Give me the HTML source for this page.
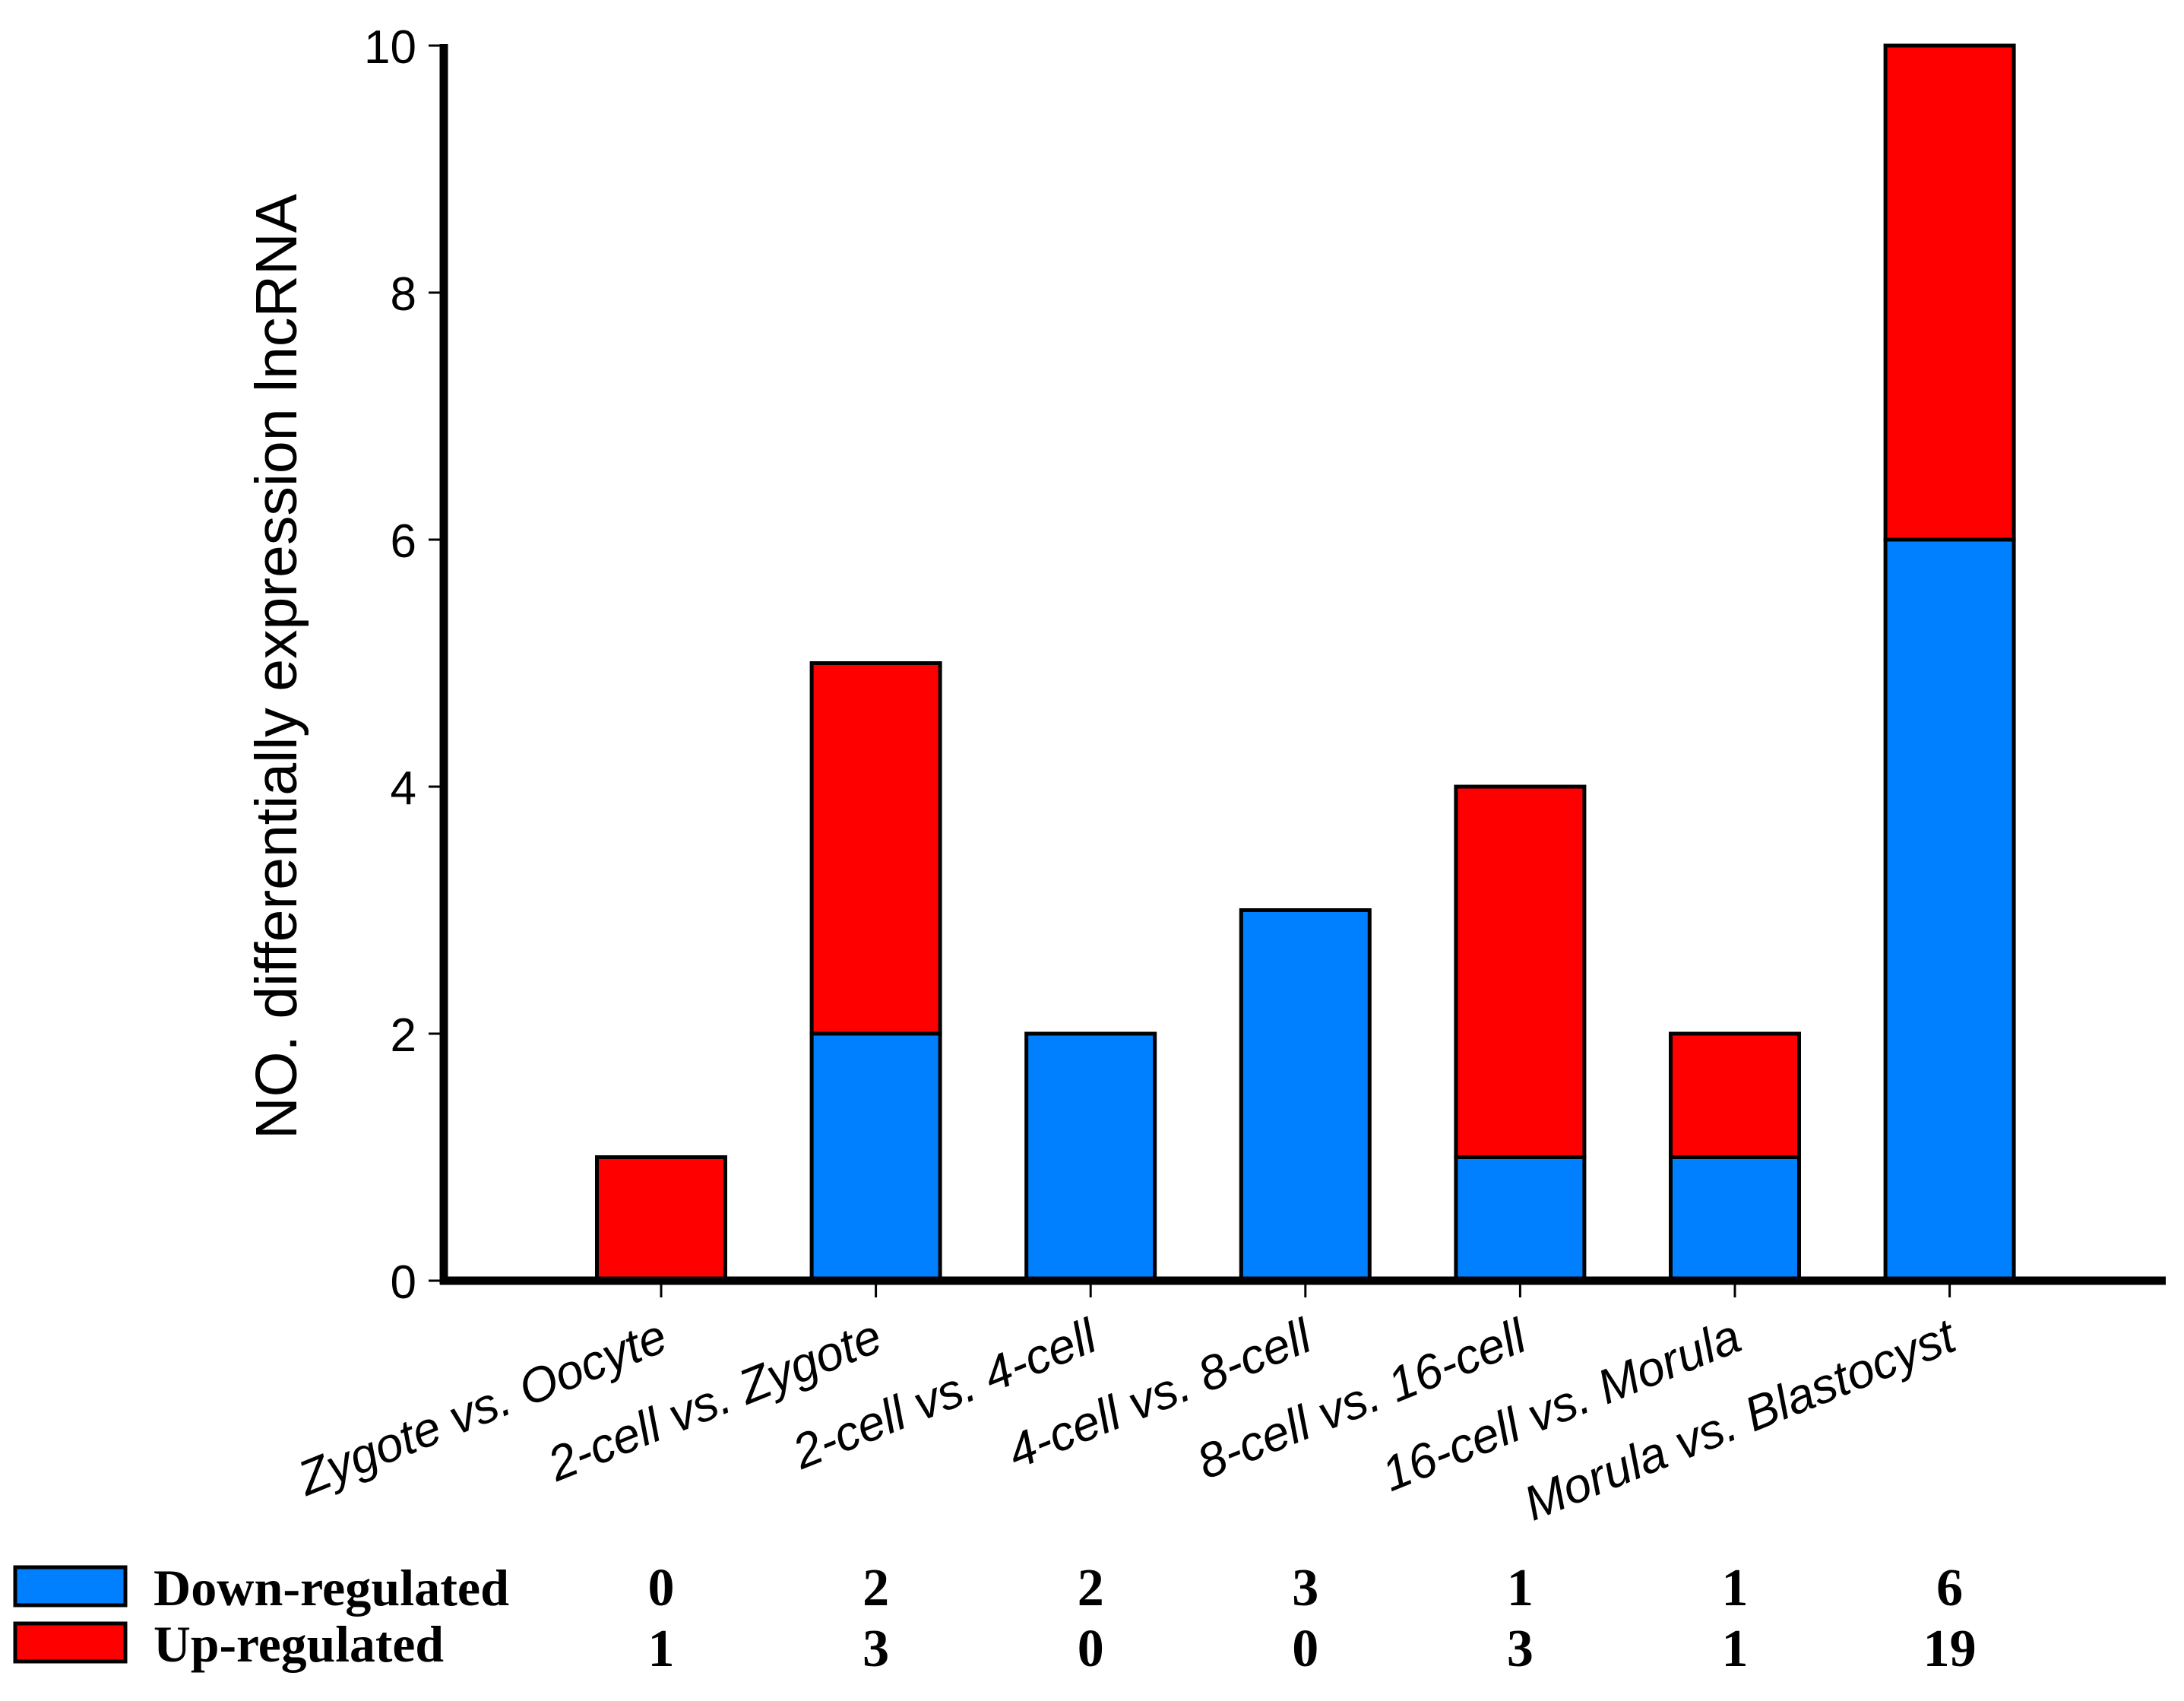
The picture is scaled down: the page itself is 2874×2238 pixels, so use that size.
<!DOCTYPE html>
<html><head><meta charset="utf-8">
<style>
html,body{margin:0;padding:0;background:#fff;}
svg{display:block;}
</style></head>
<body>
<svg id="chart" width="2874" height="2238" viewBox="0 0 2874 2238" xmlns="http://www.w3.org/2000/svg">
<g id="bars"></g>
<g id="axes"></g>
<g id="xlabels"></g>
<g id="table"></g>
<text transform="translate(390,877) rotate(-90)" text-anchor="middle" font-family="Liberation Sans, sans-serif" font-size="77" fill="#000">NO. differentially expression lncRNA</text>
<g>
  <rect x="20" y="2062" width="145" height="50" fill="#0080ff" stroke="#000" stroke-width="5"/>
  <text x="202" y="2112" font-family="Liberation Serif, serif" font-weight="bold" font-size="68" fill="#000" textLength="468" lengthAdjust="spacingAndGlyphs">Down-regulated</text>
  <rect x="20" y="2136" width="145" height="50" fill="#ff0000" stroke="#000" stroke-width="5"/>
  <text x="202" y="2186" font-family="Liberation Serif, serif" font-weight="bold" font-size="68" fill="#000" textLength="382" lengthAdjust="spacingAndGlyphs">Up-regulated</text>
</g>
</svg>
<script>
const categories = ["Zygote vs. Oocyte","2-cell vs. Zygote","2-cell vs. 4-cell","4-cell vs. 8-cell","8-cell vs. 16-cell","16-cell vs. Morula","Morula vs. Blastocyst"];
const downValues = [0,2,2,3,1,1,6];
const upValues = [1,3,0,0,3,1,4];
const tableDown = ["0","2","2","3","1","1","6"];
const tableUp = ["1","3","0","0","3","1","19"];
const yTicks = [0,2,4,6,8,10];

const NS = "http://www.w3.org/2000/svg";
const X0 = 584, Y0 = 1685, YTOP = 60, YMAX = 10;
const firstCenter = 870, step = 282.6, barW = 169;
function yScale(v){ return Y0 - (v / YMAX) * (Y0 - YTOP); }
function xScale(i){ return firstCenter + i * step; }
function mk(tag, attrs, parent){ const e = document.createElementNS(NS, tag); for (const k in attrs) e.setAttribute(k, attrs[k]); parent.appendChild(e); return e; }

const bars = document.getElementById('bars');
categories.forEach((c, i) => {
  const cx = xScale(i);
  if (downValues[i] > 0) {
    const r = mk('rect', {x: cx - barW/2, y: yScale(downValues[i]), width: barW, height: yScale(0) - yScale(downValues[i]), fill: '#0080ff', stroke: '#000', 'stroke-width': 5}, bars);
    
    
  }
  if (upValues[i] > 0) {
    const top = downValues[i] + upValues[i];
    const r = mk('rect', {x: cx - barW/2, y: yScale(top), width: barW, height: yScale(downValues[i]) - yScale(top), fill: '#ff0000', stroke: '#000', 'stroke-width': 5}, bars);
    
    
  }
});

const axes = document.getElementById('axes');
const ya = mk('line', {x1: X0, y1: YTOP - 2, x2: X0, y2: Y0 + 5, stroke: '#000', 'stroke-width': 11}, axes);


const xa = mk('line', {x1: X0 - 5, y1: Y0, x2: 2850, y2: Y0, stroke: '#000', 'stroke-width': 11}, axes);


yTicks.forEach(t => {
  const y = yScale(t);
  const tk = mk('line', {x1: X0 - 20, y1: y, x2: X0, y2: y, stroke: '#000', 'stroke-width': 3}, axes);
  
  
  const lb = mk('text', {x: X0 - 36, y: y + 23, 'text-anchor': 'end', 'font-family': 'Liberation Sans, sans-serif', 'font-size': 62, fill: '#000'}, axes);
  lb.textContent = String(t);
  
  
});

const xl = document.getElementById('xlabels');
const table = document.getElementById('table');
categories.forEach((c, i) => {
  const cx = xScale(i);
  const tk = mk('line', {x1: cx, y1: Y0 + 5, x2: cx, y2: Y0 + 22, stroke: '#000', 'stroke-width': 3}, axes);
  
  
  const t = mk('text', {transform: 'translate(' + (cx + 12) + ',' + (Y0 + 90) + ') rotate(-22)', 'text-anchor': 'end', 'font-family': 'Liberation Sans, sans-serif', 'font-style': 'italic', 'font-size': 64, fill: '#000'}, xl);
  t.textContent = c;
  
  
  const d = mk('text', {x: cx, y: 2112, 'text-anchor': 'middle', 'font-family': 'Liberation Serif, serif', 'font-weight': 'bold', 'font-size': 70, fill: '#000'}, table);
  d.textContent = tableDown[i];
  
  
  const u = mk('text', {x: cx, y: 2192, 'text-anchor': 'middle', 'font-family': 'Liberation Serif, serif', 'font-weight': 'bold', 'font-size': 70, fill: '#000'}, table);
  u.textContent = tableUp[i];
  
  
});
</script>
</body></html>
